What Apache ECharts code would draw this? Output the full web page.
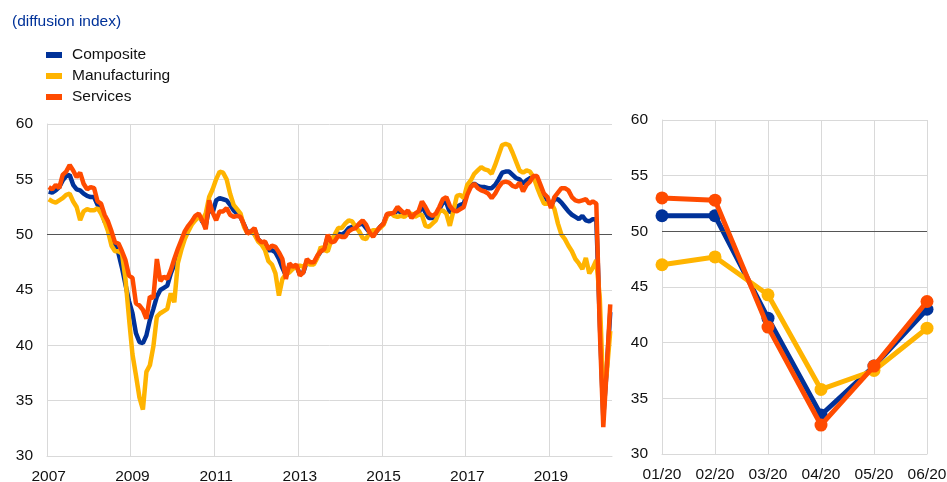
<!DOCTYPE html>
<html lang="en">
<head>
    <meta charset="UTF-8">
    <title>PMI</title>
    <style>
        body { margin: 0; background: #fff; }
    </style>
</head>
<body>
<div id="main" style="width:947px;height:482px"></div>
<script src="https://cdn.jsdelivr.net/npm/echarts@6/dist/echarts.min.js"></script>
<script>
    // monthly readings, Jan 2007 - Jun 2020
    var composite = [
        53.9, 53.8, 54.0, 54.3, 54.9, 55.3, 55.4, 54.5, 54.1, 54.0, 53.7, 53.5,
        53.4, 53.4, 52.7, 52.3, 51.2, 50.8, 49.8, 49.0, 48.3, 47.0, 45.5, 44.0,
        42.9, 41.1, 40.3, 40.2, 40.9, 42.3, 43.3, 44.4, 45.0, 45.2, 45.4, 46.5,
        47.3, 48.2, 49.0, 49.9, 50.6, 51.1, 51.6, 51.8, 51.2, 50.8, 52.5, 52.0,
        53.1, 53.3, 53.2, 53.1, 52.7, 52.2, 51.9, 51.6, 50.9, 50.2, 50.3, 50.5,
        49.6, 49.3, 49.3, 48.6, 48.6, 48.4, 47.8, 47.0, 46.3, 47.2, 47.0, 47.2,
        46.4, 46.6, 47.6, 47.5, 47.4, 48.0, 48.5, 48.7, 49.8, 49.4, 49.6, 50.1,
        50.0, 50.2, 50.6, 50.7, 50.7, 50.9, 51.0, 50.6, 50.2, 50.0, 50.3, 50.7,
        51.0, 51.8, 51.9, 51.9, 52.2, 52.0, 51.8, 52.0, 51.6, 51.8, 51.9, 52.6,
        52.0, 51.5, 51.5, 51.7, 52.3, 52.9, 52.9, 52.0, 52.2, 52.5, 52.7, 52.8,
        53.8, 54.4, 54.6, 54.4, 54.3, 54.3, 54.2, 54.2, 54.5, 55.0, 55.6, 55.7,
        55.7, 55.4, 55.1, 55.0, 54.6, 54.9, 55.1, 55.2, 55.1, 54.2, 53.6, 53.1,
        52.6, 53.2, 53.2, 52.9, 52.5, 52.1, 51.8, 51.6, 51.4, 51.7, 51.3, 51.2,
        51.4, 51.4, 42.2, 33.5, 37.9, 43.0
    ];
    var manufacturing = [
        53.2, 53.0, 52.9, 53.1, 53.3, 53.6, 53.7, 53.0, 52.5, 51.3, 52.1, 52.3,
        52.2, 52.2, 52.4, 51.9, 51.2, 50.3, 49.0, 48.5, 48.5, 48.3, 46.0, 42.5,
        39.2, 37.3, 35.3, 34.2, 37.6, 38.2, 39.9, 42.6, 42.9, 43.1, 43.3, 44.7,
        43.9, 47.4, 48.6, 49.6, 50.3, 50.9, 51.3, 51.6, 51.3, 51.9, 53.4, 54.1,
        55.0, 55.7, 55.6, 55.0, 53.7, 52.7, 52.3, 51.9, 50.7, 50.1, 50.3, 50.0,
        49.4, 49.1, 48.6, 47.6, 47.3, 46.5, 44.5, 46.0, 46.4, 46.6, 46.9, 47.1,
        47.2, 47.1, 47.4, 47.3, 47.3, 47.9, 48.9, 48.6, 48.5, 49.5, 50.0, 50.6,
        50.6, 51.0, 51.3, 51.2, 50.7, 50.3, 49.7, 49.6, 50.2, 50.4, 50.4, 50.6,
        50.9, 51.7, 52.0, 51.7, 51.6, 51.7, 51.6, 51.9, 51.9, 51.6, 51.8, 51.8,
        50.8, 50.7, 51.0, 51.3, 52.1, 52.2, 51.9, 50.8, 52.1, 53.5, 53.6, 53.3,
        54.5, 54.9, 55.5, 55.8, 56.1, 55.9, 55.8, 55.5, 56.3, 57.2, 58.1, 58.2,
        58.1, 57.4, 56.6, 55.8, 55.6, 55.8, 55.7, 55.2, 54.3, 53.5, 52.8, 52.8,
        52.9, 52.3, 51.0, 50.0, 49.6, 49.0, 48.5, 47.8, 47.4, 46.9, 47.9, 46.5,
        47.0, 47.7, 44.3, 35.8, 37.5, 41.3
    ];
    var services = [
        54.3, 54.1, 54.5, 54.2, 55.4, 55.7, 56.3, 55.8, 55.2, 55.6, 54.6, 54.1,
        54.3, 54.2, 53.0, 52.8, 51.8, 51.2, 50.3, 49.3, 49.2, 48.5, 47.7, 46.3,
        46.1, 43.8, 43.6, 43.2, 42.4, 44.4, 44.3, 47.8, 45.8, 46.2, 46.0, 46.8,
        47.8, 48.7, 49.5, 50.3, 50.8, 51.2, 51.7, 51.9, 51.3, 50.5, 53.1, 52.0,
        51.3, 52.1, 52.1, 52.4, 51.8, 51.6, 51.7, 51.6, 50.9, 50.1, 50.3, 50.6,
        49.6, 49.3, 49.4, 48.7, 49.0, 48.9, 48.4, 47.8, 46.0, 47.4, 47.1, 47.3,
        46.3, 46.6, 47.8, 47.5, 47.5, 48.1, 48.5, 48.7, 50.0, 49.3, 49.4, 49.9,
        49.8, 49.8, 50.3, 50.5, 50.6, 51.0, 51.3, 50.9, 50.2, 49.8, 50.3, 50.7,
        51.0, 51.9, 51.9, 52.0, 52.5, 52.2, 51.9, 52.2, 51.5, 51.9, 52.1, 53.0,
        52.5, 51.9, 51.7, 51.9, 52.5, 53.2, 53.4, 52.6, 52.2, 52.1, 52.3, 52.5,
        53.6, 54.3, 54.6, 54.2, 54.0, 53.9, 53.7, 53.3, 53.7, 54.3, 54.7, 54.8,
        54.7, 54.4, 54.3, 54.7, 53.9, 54.5, 54.8, 55.3, 55.3, 54.5, 53.7, 53.4,
        52.4, 53.4, 53.8, 54.2, 54.2, 54.0, 53.4, 53.1, 53.0, 53.1, 53.2, 52.8,
        53.0, 52.8, 41.4, 32.6, 37.9, 43.7
    ];
    var recentMonths = ['01/20', '02/20', '03/20', '04/20', '05/20', '06/20'];

    var months = [];
    for (var y = 2007; y <= 2020; y++) {
        for (var m = 1; m <= 12; m++) {
            if (months.length < composite.length) {
                months.push(y + '-' + (m < 10 ? '0' + m : m));
            }
        }
    }
    var n = recentMonths.length;

    var colors = ['#003299', '#ffb400', '#ff4b00'];
    var names = ['Composite', 'Manufacturing', 'Services'];
    var longData = [composite, manufacturing, services];
    var fs = 15.5;
    var gridGrey = '#d9d9d9';

    // every other January gets a label and a vertical line
    function isLabelMonth(index) {
        var v = months[index];
        return !!v && v.slice(5) === '01' && (+v.slice(0, 4)) % 2 === 1;
    }

    var series = [];
    for (var s = 0; s < 3; s++) {
        series.push({
            name: names[s],
            type: 'line',
            xAxisIndex: 0,
            yAxisIndex: 0,
            data: longData[s],
            showSymbol: false,
            symbol: 'none',
            lineStyle: {width: 4.5, color: colors[s]},
            itemStyle: {color: colors[s]},
            z: 3 + s,
            animation: false
        });
    }
    for (var s = 0; s < 3; s++) {
        series.push({
            name: names[s],
            type: 'line',
            xAxisIndex: 1,
            yAxisIndex: 1,
            data: longData[s].slice(-n),
            symbol: 'circle',
            symbolSize: 13,
            showSymbol: true,
            lineStyle: {width: 5, color: colors[s]},
            itemStyle: {color: colors[s]},
            z: 3 + s,
            animation: false
        });
    }
    // the 50 threshold line
    function refLine() {
        return {
            silent: true,
            symbol: 'none',
            label: {show: false},
            lineStyle: {color: '#555555', width: 1, type: 'solid'},
            data: [{yAxis: 50}]
        };
    }
    series[0].markLine = refLine();
    series[3].markLine = refLine();

    var myChart = echarts.init(document.getElementById('main'), null, {renderer: 'canvas'});
    myChart.setOption({
        backgroundColor: '#ffffff',
        animation: false,
        textStyle: {fontFamily: 'Liberation Sans, Arial, sans-serif'},
        title: {
            text: '(diffusion index)',
            left: 12,
            top: 14,
            padding: 0,
            textStyle: {fontSize: fs, fontWeight: 'normal', color: '#003299'}
        },
        legend: {
            orient: 'vertical',
            left: 46,
            top: 47,
            padding: 0,
            itemGap: 5,
            itemWidth: 16,
            itemHeight: 6,
            icon: 'rect',
            data: names,
            selectedMode: false,
            textStyle: {fontSize: fs, color: '#111', padding: [0, 0, 0, 5]}
        },
        grid: [
            {left: 47, top: 124, width: 565, height: 332, outerBoundsMode: 'none'},
            {left: 662, top: 120, width: 265, height: 334, outerBoundsMode: 'none'}
        ],
        xAxis: [
            {
                type: 'category',
                gridIndex: 0,
                data: months,
                boundaryGap: true,
                axisLine: {lineStyle: {color: gridGrey}},
                axisTick: {show: false},
                axisLabel: {
                    interval: isLabelMonth,
                    formatter: function (v) { return v.slice(0, 4); },
                    fontSize: fs,
                    color: '#111',
                    margin: 13
                },
                splitLine: {
                    show: true,
                    interval: isLabelMonth,
                    showMaxLine: false,
                    lineStyle: {color: gridGrey}
                }
            },
            {
                type: 'category',
                gridIndex: 1,
                data: recentMonths,
                boundaryGap: false,
                axisLine: {lineStyle: {color: gridGrey}},
                axisTick: {show: false},
                axisLabel: {interval: 0, fontSize: fs, color: '#111', margin: 13},
                splitLine: {show: true, lineStyle: {color: gridGrey}}
            }
        ],
        yAxis: [
            {
                type: 'value',
                gridIndex: 0,
                min: 30,
                max: 60,
                interval: 5,
                axisLine: {show: true, lineStyle: {color: gridGrey}},
                axisTick: {show: false},
                axisLabel: {fontSize: fs, color: '#111', margin: 14},
                splitLine: {lineStyle: {color: gridGrey}}
            },
            {
                type: 'value',
                gridIndex: 1,
                min: 30,
                max: 60,
                interval: 5,
                axisLine: {show: true, lineStyle: {color: gridGrey}},
                axisTick: {show: false},
                axisLabel: {fontSize: fs, color: '#111', margin: 14},
                splitLine: {lineStyle: {color: gridGrey}}
            }
        ],
        series: series
    });
</script>
</body>
</html>
